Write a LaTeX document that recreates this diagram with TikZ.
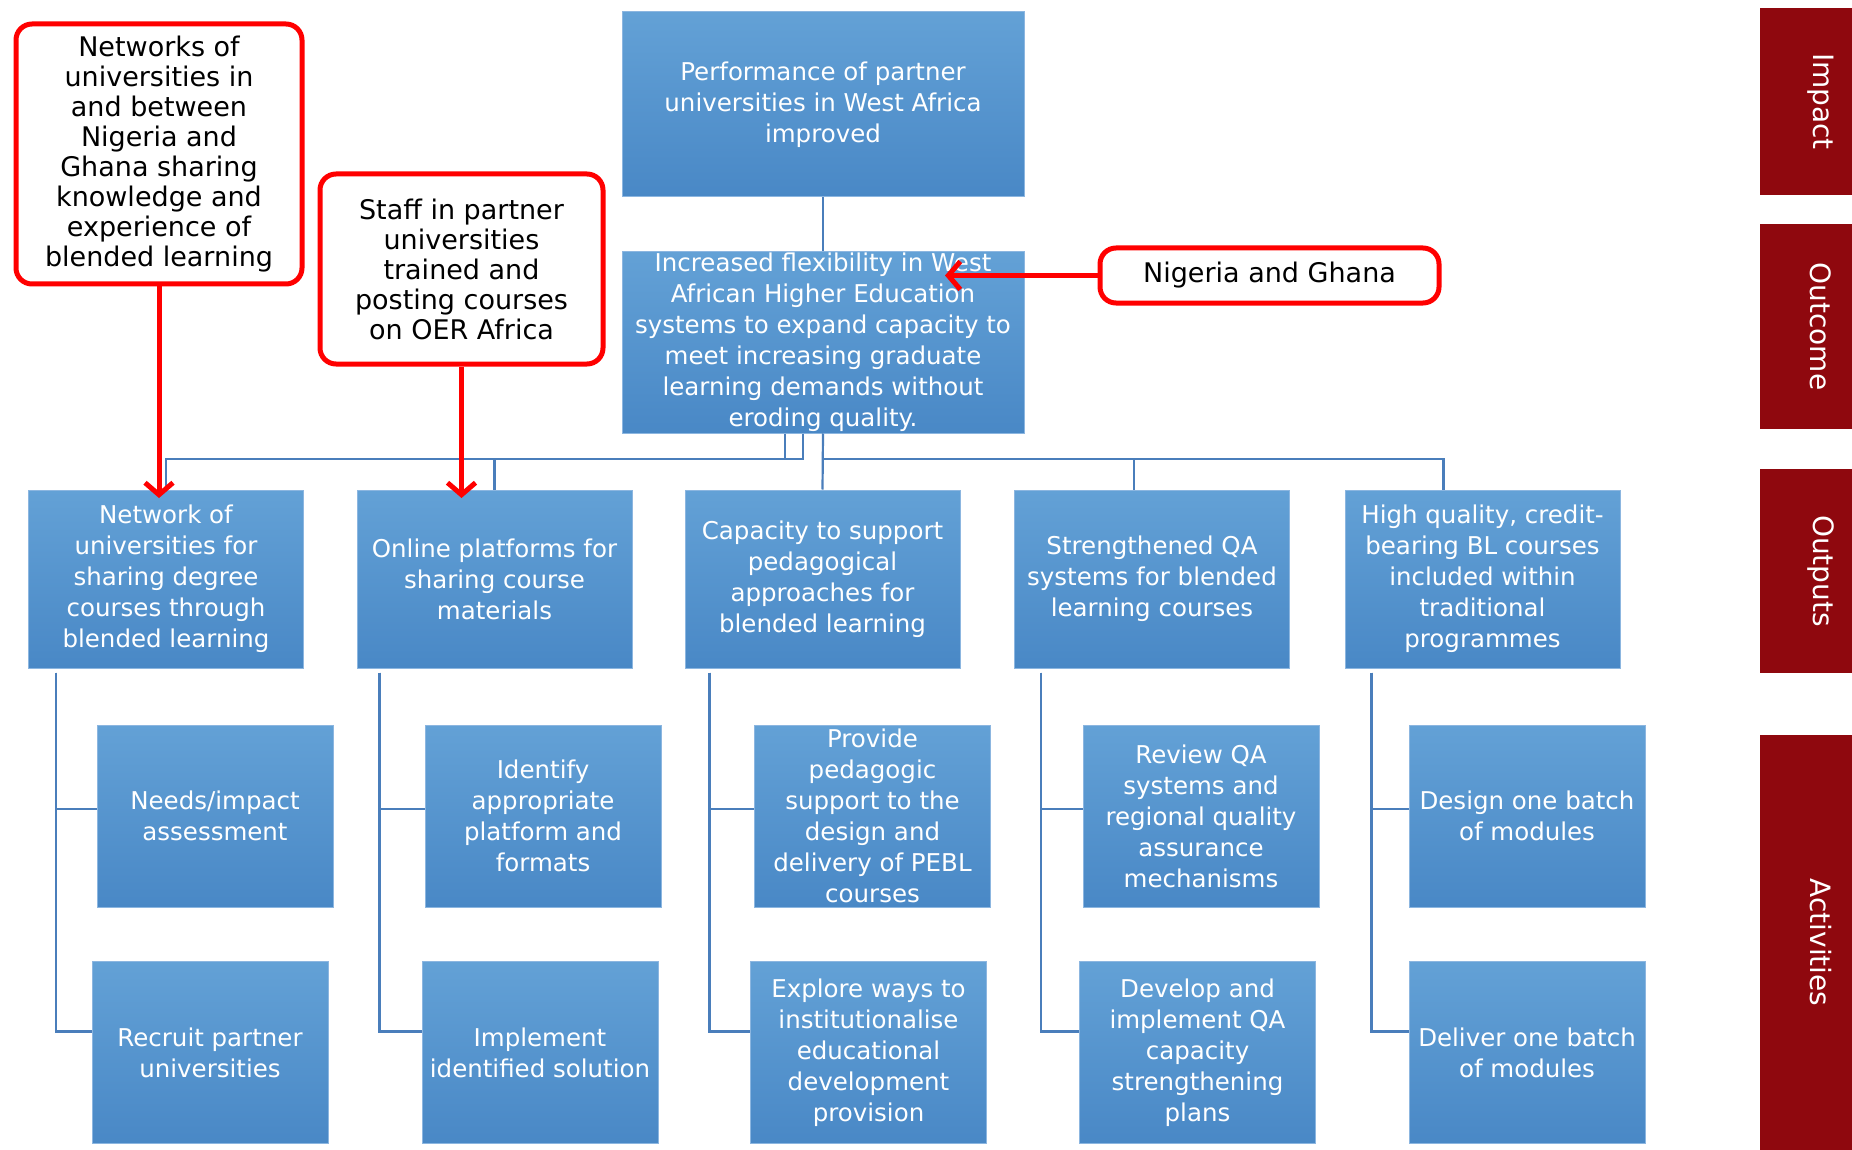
\documentclass[tikz,border=0pt]{standalone}
\usepackage{fontspec}
\setmainfont{DejaVu Sans}
\usetikzlibrary{arrows.meta}
\definecolor{boxtop}{RGB}{99,161,214}
\definecolor{boxbot}{RGB}{73,136,198}
\definecolor{boxline}{RGB}{140,182,224}
\definecolor{treeblue}{RGB}{74,126,187}
\definecolor{barred}{RGB}{143,8,14}

\begin{document}
\begin{tikzpicture}[x=1pt,y=-1pt,
  blue node/.style={rectangle,top color=boxtop,bottom color=boxbot,draw=boxline,line width=1pt,
    text=white,align=center,inner sep=0pt,font=\fontsize{24.5}{31}\selectfont},
  out node/.style={blue node,minimum width=275pt,minimum height=178pt},
  act node/.style={blue node,minimum width=236pt,minimum height=182pt},
  note node/.style={rectangle,rounded corners=16pt,draw=red,line width=5pt,fill=white,
    align=center,inner sep=0pt,font=\fontsize{27}{30}\selectfont},
  level node/.style={rectangle,fill=barred,text=white,rotate=-90,inner sep=0pt,
    minimum height=122pt,font=\fontsize{28}{30}\selectfont},
  tree/.style={draw=treeblue,line width=2.2pt},
  note arrow/.style={draw=red,line width=5pt,-{Straight Barb[length=12pt,width=28pt]}}]

  \useasboundingbox (0,0) rectangle (1852,1150);

  \node[blue node,minimum width=402pt,minimum height=185pt] (impact) at (823,104.5)
    {Performance of partner\\universities in West Africa\\improved};
  \node[blue node,minimum width=402pt,minimum height=181pt] (outcome) at (823,342.5)
    {Increased flexibility in West\\African Higher Education\\systems to expand capacity to\\meet increasing graduate\\learning demands without\\eroding quality.};

  \node[out node] (out1) at (166,579) {Network of\\universities for\\sharing degree\\courses through\\blended learning};
  \node[out node] (out2) at (494.5,579) {Online platforms for\\sharing course\\materials};
  \node[out node] (out3) at (822.5,579) {Capacity to support\\pedagogical\\approaches for\\blended learning};
  \node[out node] (out4) at (1152,579) {Strengthened QA\\systems for blended\\learning courses};
  \node[out node] (out5) at (1482.5,579) {High quality, credit-\\bearing BL courses\\included within\\traditional\\programmes};

  \node[act node] (act11) at (215,816) {Needs/impact\\assessment};
  \node[act node] (act12) at (210,1052.5) {Recruit partner\\universities};
  \node[act node] (act21) at (543,816) {Identify\\appropriate\\platform and\\formats};
  \node[act node] (act22) at (540,1052.5) {Implement\\identified solution};
  \node[act node] (act31) at (872.5,816) {Provide\\pedagogic\\support to the\\design and\\delivery of PEBL\\courses};
  \node[act node] (act32) at (868.5,1052.5) {Explore ways to\\institutionalise\\educational\\development\\provision};
  \node[act node] (act41) at (1201,816) {Review QA\\systems and\\regional quality\\assurance\\mechanisms};
  \node[act node] (act42) at (1197.5,1052.5) {Develop and\\implement QA\\capacity\\strengthening\\plans};
  \node[act node] (act51) at (1527,816) {Design one batch\\of modules};
  \node[act node] (act52) at (1527,1052.5) {Deliver one batch\\of modules};

  \node[note node,minimum width=286pt,minimum height=260pt] (netw) at (159,154)
    {Networks of\\universities in\\and between\\Nigeria and\\Ghana sharing\\knowledge and\\experience of\\blended learning};
  \node[note node,minimum width=283pt,minimum height=190pt] (staff) at (461.5,269)
    {Staff in partner\\universities\\trained and\\posting courses\\on OER Africa};
  \node[note node,minimum width=339pt,minimum height=55pt] (nga) at (1269.5,275.5) {Nigeria and Ghana};

  \node[level node,minimum width=187pt] (limpact) at (1821,101.5) {Impact};
  \node[level node,minimum width=205pt] (loutcome) at (1821,326.5) {Outcome};
  \node[level node,minimum width=204pt] (loutputs) at (1821,571) {Outputs};
  \node[level node,minimum width=415pt] (lacts) at (1821,942.5) {Activities};

  \coordinate (bus) at (0,459);
  \coordinate (tip1) at (159,498);
  \coordinate (tip2) at (461.5,498);
  \coordinate (tip3) at (945,275.5);

  \draw[tree] (impact) -- (outcome);
  \draw[tree] ([xshift=-20pt]outcome.south) |- (out1.north |- bus) -- (out1.north);
  \draw[tree] ([xshift=-38pt]outcome.south) -- ([xshift=-38pt]outcome.south |- bus);
  \draw[tree] (out2.north |- bus) -- (out2.north);
  \draw[tree] (outcome.south) -- (out3.north);
  \draw[tree] (outcome.south |- bus) -| ([xshift=-18pt]out4.north);
  \draw[tree] (outcome.south |- bus) -| ([xshift=-39pt]out5.north);

  \draw[tree] ([xshift=28pt,yshift=-4pt]out1.south west) |- ([yshift=7pt]act11.west);
  \draw[tree] ([xshift=28pt,yshift=-4pt]out1.south west) |- ([yshift=21pt]act12.west);
  \draw[tree] ([xshift=23pt,yshift=-4pt]out2.south west) |- ([yshift=7pt]act21.west);
  \draw[tree] ([xshift=23pt,yshift=-4pt]out2.south west) |- ([yshift=21pt]act22.west);
  \draw[tree] ([xshift=25pt,yshift=-4pt]out3.south west) |- ([yshift=7pt]act31.west);
  \draw[tree] ([xshift=25pt,yshift=-4pt]out3.south west) |- ([yshift=21pt]act32.west);
  \draw[tree] ([xshift=27pt,yshift=-4pt]out4.south west) |- ([yshift=7pt]act41.west);
  \draw[tree] ([xshift=27pt,yshift=-4pt]out4.south west) |- ([yshift=21pt]act42.west);
  \draw[tree] ([xshift=27pt,yshift=-4pt]out5.south west) |- ([yshift=7pt]act51.west);
  \draw[tree] ([xshift=27pt,yshift=-4pt]out5.south west) |- ([yshift=21pt]act52.west);

  \draw[note arrow] (netw) -- (tip1);
  \draw[note arrow] (staff) -- (tip2);
  \draw[note arrow] (nga) -- (tip3);
\end{tikzpicture}
\end{document}
